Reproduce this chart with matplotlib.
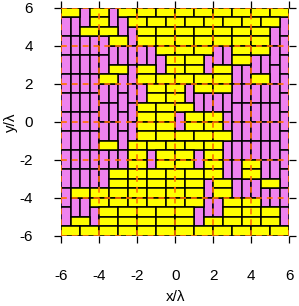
import matplotlib

matplotlib.use("Agg")

import matplotlib.pyplot as plt
from matplotlib.patches import Rectangle

# domino tiling, one string per row from top (y=6) to bottom (y=-6);
# each char is a 0.5 x 0.5 cell: M = vertical (magenta) domino, Y = horizontal (yellow) domino
TILING = [
    "YYMYYMYYYYYYYYYYYYYYYYYY",
    "MMMYYMMYYYYYYYYYYYYYYYYM",
    "MMYYYYMMYYYYYYYYYYYYYYMM",
    "MMMMMYYMYYYYYYYYYYYYYYMM",
    "MMMMMMMMMMYYYYYYMMYYYYMM",
    "MMMMMMMMMMMYYYYMMMYYMMMM",
    "MMMMMYYMYYMYYYYMYYMMMMMM",
    "MMMMYYMMYYYYYYYYYYMMYYMM",
    "MMMMMMMMMYYYYMYYYYMMMMMM",
    "MMMMMMMMMYYYYMMMMMMMMMMM",
    "MMMMMMMMYYYYYYMMMMMMMMMM",
    "MMMMMMMMYYYYMYYYYMMMMMMM",
    "MMMMMMMMYYYYMYYYYMMMMMMM",
    "MMMMMMMMYYYYYYYYYYMMMMMM",
    "MMMMYYMYYYYYYYYYYMMMMMMM",
    "MMMMMMMYYMYYYYMYYMMMMMMM",
    "MMMMMMMYYMYYYYMYYMMYYMMM",
    "MMMMMYYYYYYYYYYYYMMYYMMM",
    "MMMMMYYYYYYYYYYMYYMMMYYM",
    "MYYYYYYYYYYYYYYMYYMMMMMM",
    "MMMYYYYYYYYYYYYMMYYYYMMM",
    "MMMMYYYYYYYYYYMMMYYYYYYM",
    "MYYMYYYYYYYYYYMYYYYYYYYM",
    "YYYYYYYYYYYYYYYYYYYYYYYY",
]
X_MIN, Y_MAX, CELL = -6.0, 6.0, 0.5
TICKS = [-6, -4, -2, 0, 2, 4, 6]

MAG = "#ee82ee"
YEL = "#ffff00"
GRID = "#ff7000"


def dominoes(rows):
    nrow, ncol = len(rows), len(rows[0])
    out = []
    # vertical pieces: pair runs of M top-down in each column
    for c in range(ncol):
        r = 0
        while r < nrow:
            if rows[r][c] == "M":
                n = 2 if r + 1 < nrow and rows[r + 1][c] == "M" else 1
                out.append((c, r, 1, n, MAG))
                r += n
            else:
                r += 1
    # horizontal pieces: pair runs of Y left-right in each row
    for r in range(nrow):
        c = 0
        while c < ncol:
            if rows[r][c] == "Y":
                n = 2 if c + 1 < ncol and rows[r][c + 1] == "Y" else 1
                out.append((c, r, n, 1, YEL))
                c += n
            else:
                c += 1
    return out


plt.rcParams["font.family"] = ["Liberation Sans", "DejaVu Sans"]

fig = plt.figure(figsize=(2.99, 3.06), dpi=100)
ax = fig.add_axes([0.204, 0.229, 0.764, 0.745])

for c, r, w, h, col in dominoes(TILING):
    x0 = X_MIN + c * CELL
    y0 = Y_MAX - (r + h) * CELL
    ax.add_patch(Rectangle((x0, y0), w * CELL, h * CELL, facecolor=col,
                           edgecolor="black", linewidth=1.1, zorder=2))

for t in TICKS:
    ax.axvline(t, color=GRID, linestyle=(0, (3.5, 3)), linewidth=1.2, zorder=3)
    ax.axhline(t, color=GRID, linestyle=(0, (3.5, 3)), linewidth=1.2, zorder=3)

ax.set_xlim(-6, 6)
ax.set_ylim(-6, 6)
ax.set_xticks(TICKS)
ax.set_yticks(TICKS)
ax.set_xticklabels([str(t) for t in TICKS])
ax.set_yticklabels([str(t) for t in TICKS])
ax.tick_params(direction="out", length=5, width=0.9, labelsize=11,
               top=True, right=True, labeltop=False, labelright=False)
ax.tick_params(axis="x", pad=19)
ax.tick_params(axis="y", pad=15)
for spine in ax.spines.values():
    spine.set_visible(False)

ax.set_xlabel("x/λ", fontsize=11, labelpad=5)
ax.set_ylabel("y/λ", fontsize=11, labelpad=1)

fig.savefig("out.png", dpi=100)
plt.close(fig)
